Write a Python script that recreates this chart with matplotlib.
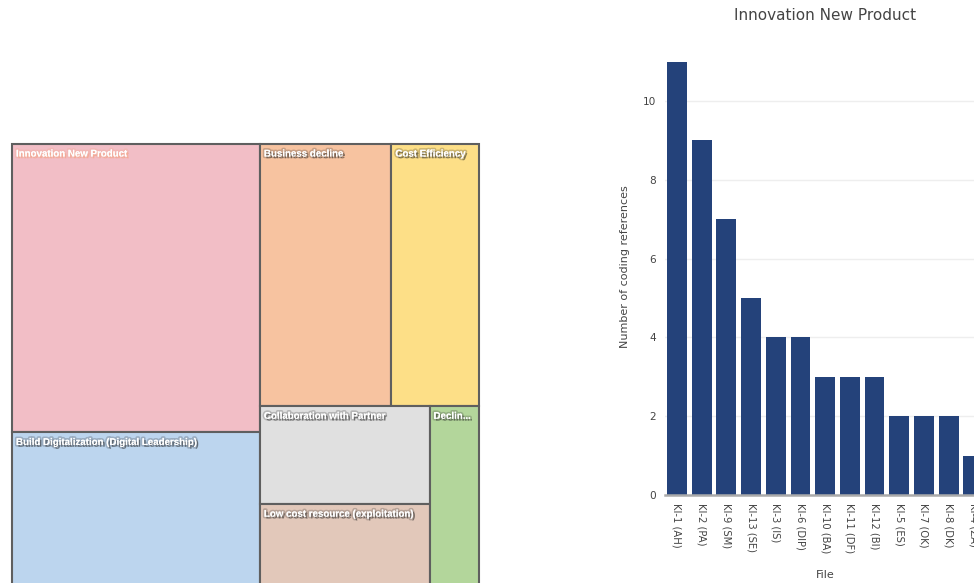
import matplotlib
matplotlib.use("Agg")
import matplotlib.pyplot as plt
import matplotlib.patheffects as pe
from matplotlib.patches import Rectangle

# ---------------- data ----------------
tm_labels = ["Innovation New Product", "Build Digitalization (Digital Leadership)",
             "Business decline", "Cost Efficiency", "Collaboration with Partner",
             "Low cost resource (exploitation)", "Declin..."]
tm_values = [56, 30, 27, 18, 13, 11, 7]
tm_colors = ["#F2BEC6", "#BCD5EE", "#F7C3A0", "#FDDF87", "#E0E0E0", "#E2C8BA", "#B3D69B"]

bar_files = ["KI-1 (AH)", "KI-2 (PA)", "KI-9 (SM)", "KI-13 (SE)", "KI-3 (IS)", "KI-6 (DIP)",
             "KI-10 (BA)", "KI-11 (DF)", "KI-12 (BI)", "KI-5 (ES)", "KI-7 (OK)", "KI-8 (DK)",
             "KI-4 (ZA)"]
bar_counts = [11, 9, 7, 5, 4, 4, 3, 3, 3, 2, 2, 2, 1]
bar_title = "Innovation New Product"

FW, FH = 974, 583
fig = plt.figure(figsize=(FW / 100, FH / 100), dpi=100)
fig.patch.set_facecolor("white")
FONT = "DejaVu Sans"


def px_axes(x0, y0, w, h):
    """axes from pixel box (top-left origin)"""
    return fig.add_axes([x0 / FW, (FH - (y0 + h)) / FH, w / FW, h / FH])


# ---------------- squarify (d3 style, golden ratio) ----------------
def squarify(values, x0, y0, x1, y1, ratio=1.618033988749895):
    rects = [None] * len(values)
    n = len(values)
    total = float(sum(values))
    i0 = i1 = 0
    while i0 < n:
        dx, dy = x1 - x0, y1 - y0
        s = values[i1]; i1 += 1
        mn = mx = s
        alpha = max(dy / dx, dx / dy) / (total * ratio)
        beta = s * s * alpha
        min_ratio = max(mx / beta, beta / mn)
        while i1 < n:
            v = values[i1]
            s2 = s + v
            mn2, mx2 = min(mn, v), max(mx, v)
            beta = s2 * s2 * alpha
            nr = max(mx2 / beta, beta / mn2)
            if nr > min_ratio:
                break
            s, mn, mx, min_ratio = s2, mn2, mx2, nr
            i1 += 1
        idx = list(range(i0, i1))
        if dx < dy:  # dice: horizontal row at top
            yb = y0 + dy * s / total
            cx = x0
            for k in idx:
                w = dx * values[k] / s
                rects[k] = (cx, y0, w, yb - y0)
                cx += w
            y0 = yb
        else:  # slice: vertical column at left
            xb = x0 + dx * s / total
            cy = y0
            for k in idx:
                h = dy * values[k] / s
                rects[k] = (x0, cy, xb - x0, h)
                cy += h
            x0 = xb
        total -= s
        i0 = i1
    return rects


TW, TH = 467, 443
axt = px_axes(12, 144, TW, TH)
axt.set_xlim(0, TW)
axt.set_ylim(TH, 0)
axt.axis("off")
rects = squarify(tm_values, 0, 0, TW, TH)
for i, (x, y, w, h) in enumerate(rects):
    axt.add_patch(Rectangle((x, y), w, h, facecolor=tm_colors[i], edgecolor="#5f5f5f",
                            linewidth=1.5, clip_on=False))
    shadow_col = "#f4a07a" if i == 0 else "#222222"
    axt.text(x + 4, y + 4.5, tm_labels[i], ha="left", va="top", color="white",
             fontsize=7.0, fontweight="bold", family="Liberation Sans",
             path_effects=[pe.withStroke(linewidth=2.5, foreground=shadow_col, alpha=0.22),
                           pe.SimplePatchShadow(offset=(1.3, -1.3), shadow_rgbFace=shadow_col, alpha=0.5),
                           pe.Normal()])

# ---------------- bar chart ----------------
slot = 24.7
ppu = 39.4
ymax = 11.58
n = len(bar_files)
axb = px_axes(664.6, 495 - ymax * ppu, n * slot, ymax * ppu)
axb.bar(range(n), bar_counts, width=0.8, color="#24427A", zorder=2)
axb.set_xlim(-0.5, n - 0.5)
axb.set_ylim(0, ymax)
axb.set_yticks([0, 2, 4, 6, 8, 10])
axb.grid(axis="y", color="#eeeeee", linewidth=1, zorder=0)
axb.set_axisbelow(True)
for s in ["top", "right", "left"]:
    axb.spines[s].set_visible(False)
axb.spines["bottom"].set_color("#aaaaaa")
axb.spines["bottom"].set_linewidth(1.8)
axb.spines["bottom"].set_zorder(3)
axb.set_xticks(range(n))
axb.set_xticklabels(bar_files, rotation=270, family=FONT, fontsize=7.2, color="#444444")
axb.tick_params(axis="x", length=0, pad=6)
axb.tick_params(axis="y", length=0, pad=6, labelsize=7.6, labelcolor="#444444")
for t in axb.get_yticklabels():
    t.set_family(FONT)
axb.set_ylabel("Number of coding references", family=FONT, fontsize=8.0,
               color="#444444", labelpad=9)
fig.text(825 / FW, 1 - 575 / FH, "File", ha="center", va="center",
         family=FONT, fontsize=8.0, color="#444444")
fig.text(825 / FW, 1 - 15 / FH, bar_title, ha="center", va="center",
         family=FONT, fontsize=11, color="#444444")

fig.savefig("out.png", dpi=100)
